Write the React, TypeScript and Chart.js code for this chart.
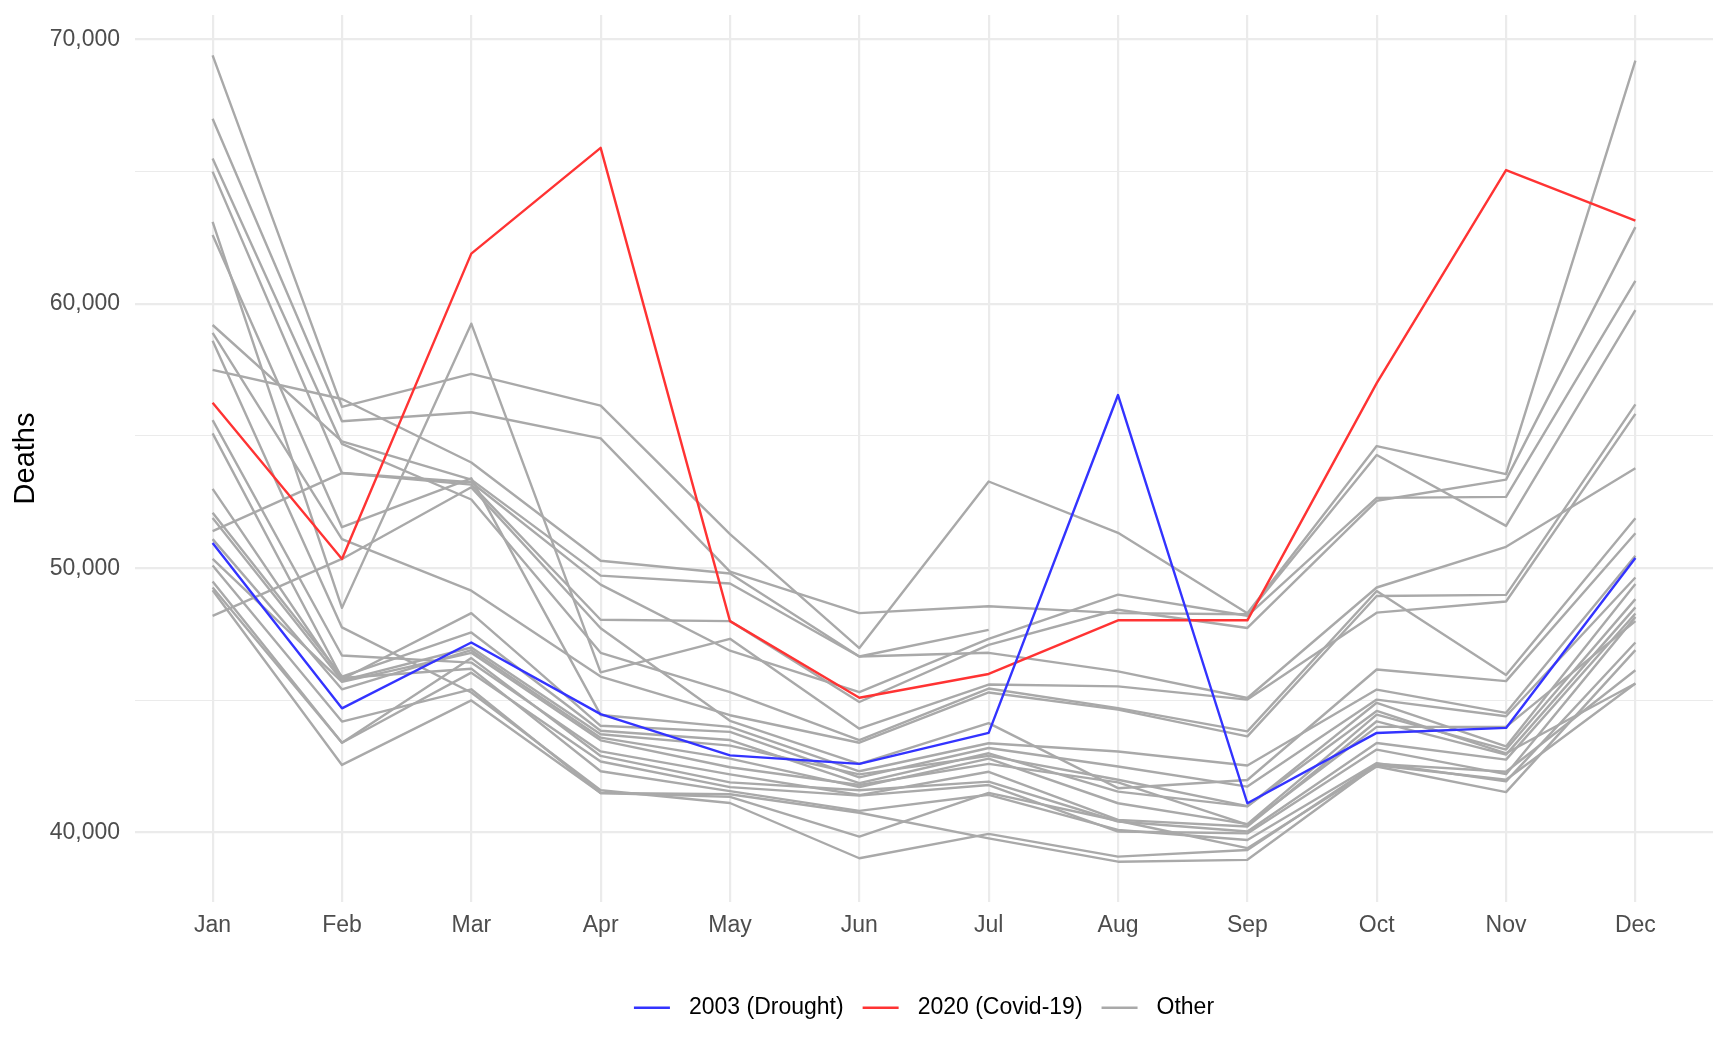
import React, { useEffect, useRef } from "react";
import { Chart, registerables } from "chart.js";

Chart.register(...registerables);

const months = ["Jan", "Feb", "Mar", "Apr", "May", "Jun", "Jul", "Aug", "Sep", "Oct", "Nov", "Dec"];

// highlighted years
const drought2003 = [50950, 44700, 47190, 44480, 42920, 42600, 43770, 56550, 41110, 43770, 43960, 50390];
const covid2020 = [56260, 50350, 61900, 65900, 48000, 45100, 46000, 48030, 48030, 57000, 65060, 63150];

// the other years, one array per year
const other01 = [69400, 56100, 57350, 56150, 51290, 46980, 53280, 51340, 48300, 54620, 53560, 69200];
const other02 = [67000, 55560, 55900, 54910, 49870, 48300, 48560, 48300, 48260, 54280, 51600, 59760];
const other03 = [51400, 53600, 53250, 49380, 46880, 45310, 47330, 49000, 48200, 52660, 52700, 60870];
const other04 = [65000, 53600, 53160, 48050, 48000, 44940, 47100, 48430, 47740, 52550, 53350, 62900];
const other05 = [59200, 54800, 53350, 49720, 49420, 46660, 46800, 46100, 45090, 49270, 50810, 53780];
const other06 = [63100, 48500, 59250, 46060, 47330, 43930, 45600, 45530, 45030, 48320, 48740, 55840];
const other07 = [65500, 54700, 52600, 46800, 45310, 43500, 45450, 44710, 43830, 49140, 45960, 51890];
const other08 = [58900, 51100, 49150, 45900, 44440, 43400, 45300, 44650, 43640, 48950, 48990, 56200];
const other09 = [48200, 50350, 53060, 47730, 44230, 42600, 44140, 41680, 41990, 46170, 45730, 51320];
const other10 = [62600, 51550, 53400, 44450, 44000, 42320, 43380, 43070, 42540, 45410, 44530, 50470];
const other11 = [53000, 45800, 48300, 44040, 43810, 42090, 43200, 42500, 41740, 45030, 44400, 49650];
const other12 = [52100, 45900, 47570, 43850, 43500, 41870, 43000, 41550, 40990, 44910, 43260, 49400];
const other13 = [51100, 45420, 46900, 43590, 42800, 41720, 42800, 41110, 40320, 44460, 43140, 48830];
const other14 = [55600, 46700, 46430, 43070, 42200, 41420, 42300, 40480, 40230, 44210, 42950, 48520];
const other15 = [49500, 43400, 46600, 42900, 41900, 41600, 41930, 40420, 40040, 43390, 42760, 48290];
const other16 = [49270, 43400, 46050, 42690, 41720, 41400, 41800, 40040, 39970, 43140, 42210, 48160];
const other17 = [55100, 45850, 46200, 42320, 41570, 40820, 41430, 40100, 39720, 42630, 41940, 47190];
const other18 = [50100, 44200, 45420, 41500, 41350, 39850, 41500, 40450, 39410, 42500, 41530, 46900];
const other19 = [58600, 47760, 45300, 41600, 41120, 39030, 39950, 39090, 39340, 42600, 42300, 46140];
const other20 = [49170, 42560, 45000, 41500, 41450, 40750, 39780, 38900, 38970, 42550, 42000, 45640];
const other21 = [50350, 45700, 46800, 43490, 42470, 41800, 42600, 41900, 40300, 44000, 44000, 48000];
const other22 = [51900, 45750, 47000, 43720, 43290, 42200, 42900, 42000, 41000, 44600, 43000, 45640];
const other23 = [57500, 56400, 54000, 50280, 49800, 46660, 47670]; // only Jan-Jul

const otherYears = [
  other01, other02, other03, other04, other05, other06, other07, other08,
  other09, other10, other11, other12, other13, other14, other15, other16,
  other17, other18, other19, other20, other21, other22, other23,
];

const yTicks = [40000, 45000, 50000, 55000, 60000, 65000, 70000];
const legendLabels = ["2003 (Drought)", "2020 (Covid-19)", "Other"];

const BLUE = "#3333FF";
const RED = "#FF3333";
const GREY = "#A9A9A9";
const GRID = "#EBEBEB";

Chart.defaults.font.family = "'Liberation Sans', Arial, sans-serif";

const App: React.FC = () => {
  const canvasRef = useRef<HTMLCanvasElement | null>(null);

  useEffect(() => {
    if (!canvasRef.current) return;

    const toPoints = (values: number[]) => values.map((y, x) => ({ x, y }));
    const lineStyle = {
      borderWidth: 2.4,
      pointRadius: 0,
      pointHoverRadius: 0,
      fill: false,
      tension: 0,
      borderJoinStyle: "round" as const,
    };

    // ggplot-like 5% expansion of the y range
    const all = [...drought2003, ...covid2020, ...otherYears.flat()];
    const lo = Math.min(...all);
    const hi = Math.max(...all);
    const pad = (hi - lo) * 0.05;

    const legendColors = [BLUE, RED, GREY];

    const chart = new Chart(canvasRef.current, {
      type: "line",
      data: {
        datasets: [
          { label: legendLabels[0], data: toPoints(drought2003), borderColor: BLUE, ...lineStyle },
          { label: legendLabels[1], data: toPoints(covid2020), borderColor: RED, ...lineStyle },
          ...otherYears.map((values) => ({
            label: legendLabels[2],
            data: toPoints(values),
            borderColor: GREY,
            ...lineStyle,
          })),
        ],
      },
      options: {
        responsive: false,
        devicePixelRatio: 1,
        animation: false,
        events: [],
        layout: { autoPadding: false, padding: { left: 0, right: 15, top: 15, bottom: 26.8 } },
        scales: {
          x: {
            type: "linear",
            min: -0.6,
            max: months.length - 1 + 0.6,
            afterBuildTicks: (scale) => {
              scale.ticks = months.map((_, i) => ({ value: i }));
            },
            afterFit: (scale) => {
              scale.height = 75.2;
              scale.paddingLeft = 0;
              scale.paddingRight = 0;
            },
            ticks: {
              callback: (value) => months[value as number] ?? "",
              color: "#4D4D4D",
              font: { size: 23 },
              padding: 10,
              autoSkip: false,
              maxRotation: 0,
            },
            grid: { color: GRID, lineWidth: 2.2, drawTicks: false },
            border: { display: false },
          },
          y: {
            type: "linear",
            min: lo - pad,
            max: hi + pad,
            afterBuildTicks: (scale) => {
              scale.ticks = yTicks.map((v) => ({ value: v }));
            },
            afterFit: (scale) => {
              scale.width = 135;
              scale.paddingTop = 0;
              scale.paddingBottom = 0;
            },
            ticks: {
              callback: (value) =>
                (value as number) % 10000 === 0 ? (value as number).toLocaleString("en-US") : "",
              color: "#4D4D4D",
              font: { size: 23 },
              padding: 15,
            },
            grid: {
              color: GRID,
              lineWidth: (ctx) => (ctx.tick && ctx.tick.value % 10000 === 0 ? 2.2 : 1.1),
              drawTicks: false,
            },
            border: { display: false },
            title: {
              display: true,
              text: "Deaths",
              color: "#000000",
              font: { size: 29 },
              padding: { top: 9, bottom: 0 },
            },
          },
        },
        plugins: {
          tooltip: { enabled: false },
          legend: {
            position: "bottom",
            fullSize: false,
            labels: {
              boxWidth: 43.5,
              boxHeight: 0,
              padding: 19,
              color: "#000000",
              font: { size: 23 },
              generateLabels: () =>
                legendLabels.map((text, i) => ({
                  text,
                  fillStyle: "rgba(0,0,0,0)",
                  strokeStyle: legendColors[i],
                  lineWidth: 2.5,
                  lineDash: [36, 400],
                  lineCap: "butt" as const,
                  hidden: false,
                  datasetIndex: i,
                })),
            },
          },
        },
      },
    });

    return () => {
      chart.destroy();
    };
  }, []);

  return (
    <div style={{ position: "absolute", left: 0, top: 0, width: 1728, height: 1056, background: "#ffffff" }}>
      <canvas ref={canvasRef} width={1728} height={1056} />
    </div>
  );
};

export default App;
